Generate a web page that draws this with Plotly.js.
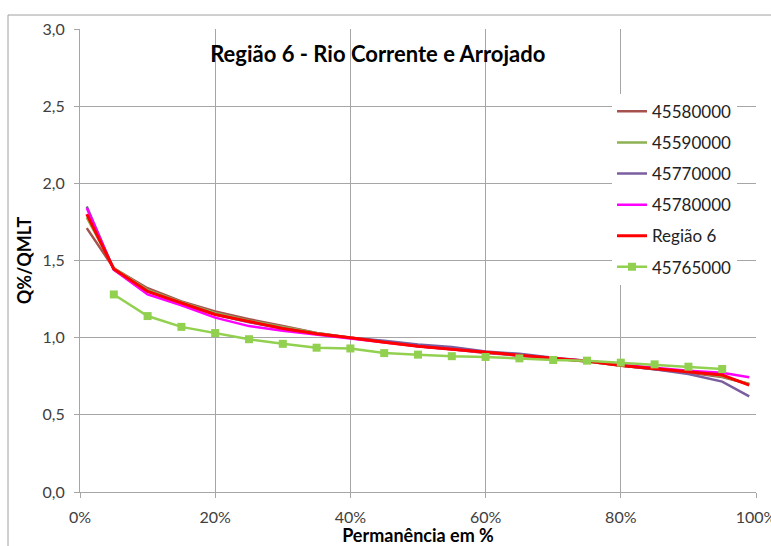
<!DOCTYPE html>
<html>
<head>
<meta charset="utf-8">
<script src="https://cdn.plot.ly/plotly-3.0.1.min.js"></script>
<style>html,body{margin:0;padding:0;background:#fff;}#chart{width:771px;height:546px;}</style>
</head>
<body>
<div id="chart"></div>
<script>
const xPerm = [1,5,10,15,20,25,30,35,40,45,50,55,60,65,70,75,80,85,90,95,99];
const s45580000 = [1.71,1.45,1.32,1.235,1.17,1.12,1.075,1.03,1.0,0.975,0.945,0.925,0.90,0.885,0.865,0.845,0.82,0.795,0.775,0.745,0.70];
const s45590000 = [1.78,1.45,1.31,1.23,1.16,1.11,1.07,1.03,1.0,0.975,0.95,0.93,0.905,0.885,0.865,0.845,0.82,0.80,0.78,0.75,0.70];
const s45770000 = [1.85,1.44,1.30,1.22,1.15,1.10,1.06,1.025,1.0,0.98,0.955,0.94,0.91,0.895,0.87,0.85,0.82,0.795,0.765,0.715,0.62];
const s45780000 = [1.84,1.44,1.28,1.21,1.13,1.075,1.045,1.02,0.995,0.97,0.945,0.925,0.905,0.885,0.865,0.85,0.825,0.805,0.785,0.773,0.743];
const regiao6   = [1.80,1.445,1.30,1.225,1.15,1.105,1.06,1.025,1.0,0.97,0.945,0.925,0.905,0.885,0.865,0.848,0.82,0.80,0.78,0.758,0.693];
const xPerm765 = [5,10,15,20,25,30,35,40,45,50,55,60,65,70,75,80,85,90,95];
const s45765000 = [1.28,1.14,1.07,1.03,0.99,0.96,0.935,0.93,0.90,0.89,0.88,0.875,0.866,0.855,0.851,0.838,0.827,0.812,0.797];
const seriesNames = ['45580000','45590000','45770000','45780000','Região 6','45765000'];
const xTicks = [0,20,40,60,80,100];
const xTickText = ['0%','20%','40%','60%','80%','100%'];

const F = 'Lato, "Open Sans", sans-serif';
function line(name, x, y, color, w, extra) {
  return Object.assign({type:'scatter', mode:'lines', name:name, x:x, y:y,
    legendgroup:name, line:{color:color, width:w}}, extra||{});
}
const data = [
  line(seriesNames[0], xPerm, s45580000, '#A5514E', 2.5),
  line(seriesNames[1], xPerm, s45590000, '#8DB152', 2.5),
  line(seriesNames[2], xPerm, s45770000, '#7A5EA0', 2.5),
  line(seriesNames[3], xPerm, s45780000, '#FF00FF', 2.5),
  line(seriesNames[4], xPerm, regiao6, '#FF0000', 3),
  line(seriesNames[5], xPerm765, s45765000, '#92D050', 2.5, {mode:'lines+markers', marker:{symbol:'square', size:8, color:'#92D050'}})
];
const layout = {
  width:771, height:546,
  margin:{l:80, r:15, t:29, b:54},
  paper_bgcolor:'#fff', plot_bgcolor:'#fff',
  separators:',.',
  font:{family:F, color:'#404040', size:16},
  showlegend:true,
  title:{text:'Região 6 - Rio Corrente e Arrojado', font:{family:F, size:22, weight:'bold', color:'#000'},
    xref:'container', yref:'container', x:0.49, xanchor:'center', y:0.9, yanchor:'middle'},
  xaxis:{range:[0,100], tickmode:'array', tickvals:xTicks, ticktext:xTickText, showgrid:true, gridcolor:'#a6a6a6', gridwidth:1,
    zeroline:false, showline:true, linecolor:'#a6a6a6', ticks:'outside', ticklen:5, tickcolor:'#a6a6a6',
    ticklabelstandoff:6, ticklabeloverflow:'allow',
    tickfont:{family:F, size:16, color:'#404040'},
    title:{text:'Permanência em %', font:{family:F, size:18, weight:'bold', color:'#000'}, standoff:6}},
  yaxis:{range:[0,3], dtick:0.5, tickformat:'.1f', showgrid:true, gridcolor:'#a6a6a6', gridwidth:1,
    zeroline:false, showline:true, linecolor:'#a6a6a6', ticks:'outside', ticklen:5, tickcolor:'#a6a6a6',
    ticklabelstandoff:6, ticklabeloverflow:'allow',
    tickfont:{family:F, size:16, color:'#404040'},
    title:{text:'Q%/QMLT', font:{family:F, size:18, weight:'bold', color:'#000'}, standoff:6}},
  legend:{x:0.787, xanchor:'left', y:0.86, yanchor:'top', bgcolor:'#fff', borderwidth:0,
    font:{family:F, size:17, color:'#222'}, tracegroupgap:6, itemwidth:30, traceorder:'grouped'},
  shapes:[{type:'rect', xref:'paper', yref:'paper', x0:-0.1065, x1:1.1, y0:-0.2, y1:1.0302,
    line:{color:'#a0a0a0', width:1}, fillcolor:'rgba(0,0,0,0)', layer:'below'}]
};
Plotly.newPlot('chart', data, layout, {displayModeBar:false, staticPlot:true});
</script>
</body>
</html>
